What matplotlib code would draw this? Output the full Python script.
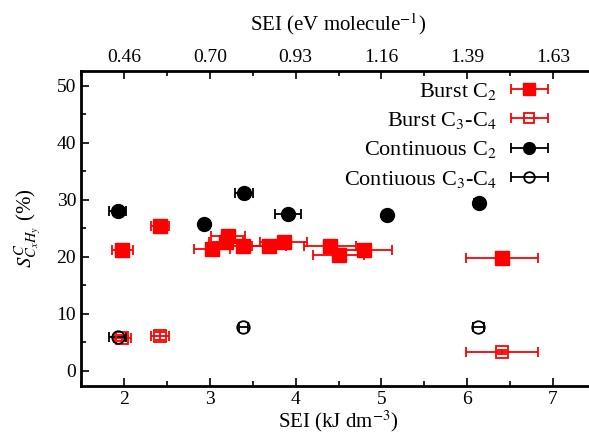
import numpy as np
import matplotlib
matplotlib.use("Agg")
import matplotlib.pyplot as plt
from matplotlib.ticker import MultipleLocator, FixedLocator
from matplotlib.legend_handler import HandlerErrorbar
from matplotlib.container import ErrorbarContainer

plt.rcParams['font.family'] = ['Liberation Serif', 'DejaVu Serif']
plt.rcParams['mathtext.fontset'] = 'stix'

# Burst C2
b2_x = [1.98, 2.42, 3.03, 3.21, 3.19, 3.39, 3.69, 3.86, 4.40, 4.50, 4.80, 6.40]
b2_y = [21.2, 25.3, 21.3, 23.7, 22.6, 21.8, 21.9, 22.5, 21.9, 20.3, 21.2, 19.8]
b2_xe = [0.12, 0.10, 0.21, 0.20, 0.20, 0.30, 0.20, 0.27, 0.30, 0.30, 0.32, 0.42]

# Burst C3-C4
b34_x = [1.98, 2.42, 6.40]
b34_y = [5.7, 6.1, 3.3]
b34_xe = [0.10, 0.10, 0.42]
b34_ye = [0.5, 0.7, 0.3]

# Continuous C2
c2_x = [1.93, 2.93, 3.40, 3.91, 5.06, 6.14]
c2_y = [28.0, 25.8, 31.2, 27.5, 27.3, 29.4]
c2_xe = [0.10, 0.03, 0.10, 0.15, 0.03, 0.06]

# Continuous C3-C4
c34_x = [1.93, 3.39, 6.13]
c34_y = [6.0, 7.7, 7.7]
c34_xe = [0.10, 0.05, 0.06]

top_ticks = [2, 3, 4, 5, 6, 7]
top_labels = ['0.46', '0.70', '0.93', '1.16', '1.39', '1.63']

fig = plt.figure(figsize=(5.89, 4.33), dpi=100)
ax = fig.add_axes([81 / 589, (433 - 385.7) / 433, (596 - 81) / 589, (385.7 - 70.7) / 433])

red = '#ff0000'
kw = dict(linestyle='none', capsize=3.5, elinewidth=1.3, capthick=1.3)
ax.errorbar(b2_x, b2_y, xerr=b2_xe, marker='s', ms=10, color=red, mfc=red, mec=red,
            label='Burst C$_2$', **kw)
# vertical error bars of burst C3-C4 drawn apart so the legend shows x bars only
ax.errorbar(b34_x, b34_y, yerr=b34_ye, marker='none', color=red, **kw)
ax.errorbar(b34_x, b34_y, xerr=b34_xe, marker='s', ms=9, color=red,
            mfc='none', mec=red, mew=1.3, label='Burst C$_3$-C$_4$', **kw)
ax.errorbar(c2_x, c2_y, xerr=c2_xe, marker='o', ms=10, color='black',
            label='Continuous C$_2$', **kw)
ax.errorbar(c34_x, c34_y, xerr=c34_xe, marker='o', ms=9, color='black', mfc='none',
            mew=1.3, label='Contiuous C$_3$-C$_4$', **kw)

ax.set_xlim(1.5, 7.5)
ax.set_ylim(-2.6, 52.6)
ax.xaxis.set_major_locator(MultipleLocator(1))
ax.xaxis.set_minor_locator(MultipleLocator(0.5))
ax.yaxis.set_major_locator(MultipleLocator(10))
ax.yaxis.set_minor_locator(MultipleLocator(5))
ax.tick_params(which='both', direction='in', labelsize=14, width=1.2)
ax.tick_params(which='major', length=6)
ax.tick_params(which='minor', length=3.5)
for s in ax.spines.values():
    s.set_linewidth(2)
ax.spines['right'].set_visible(False)

ax.set_xlabel('SEI (kJ dm$^{-3}$)', fontsize=15, labelpad=0.5)
ax.set_ylabel('$S^{C}_{C_xH_y}$ (%)', fontsize=15, labelpad=9)

top = ax.twiny()
top.set_xlim(ax.get_xlim())
top.spines['right'].set_visible(False)
top.xaxis.set_major_locator(FixedLocator(top_ticks))
top.set_xticklabels(top_labels)
top.xaxis.set_minor_locator(MultipleLocator(0.5))
top.tick_params(which='both', direction='in', labelsize=14, width=1.2)
top.tick_params(which='major', length=6)
top.tick_params(which='minor', length=3.5)
top.set_xlabel('SEI (eV molecule$^{-1}$)', fontsize=15, labelpad=13)

leg = ax.legend(loc='upper right', bbox_to_anchor=(557 / 589, (433 - 72) / 433),
                bbox_transform=fig.transFigure, markerfirst=False, frameon=False,
                fontsize=16, handlelength=1.7, labelspacing=0.37, borderaxespad=0,
                handletextpad=0.6, markerscale=0.85,
                handler_map={ErrorbarContainer: HandlerErrorbar(xerr_size=0.83)})
for t in leg.get_texts():
    t.set_ha('right')

fig.savefig('out.png', dpi=100)
